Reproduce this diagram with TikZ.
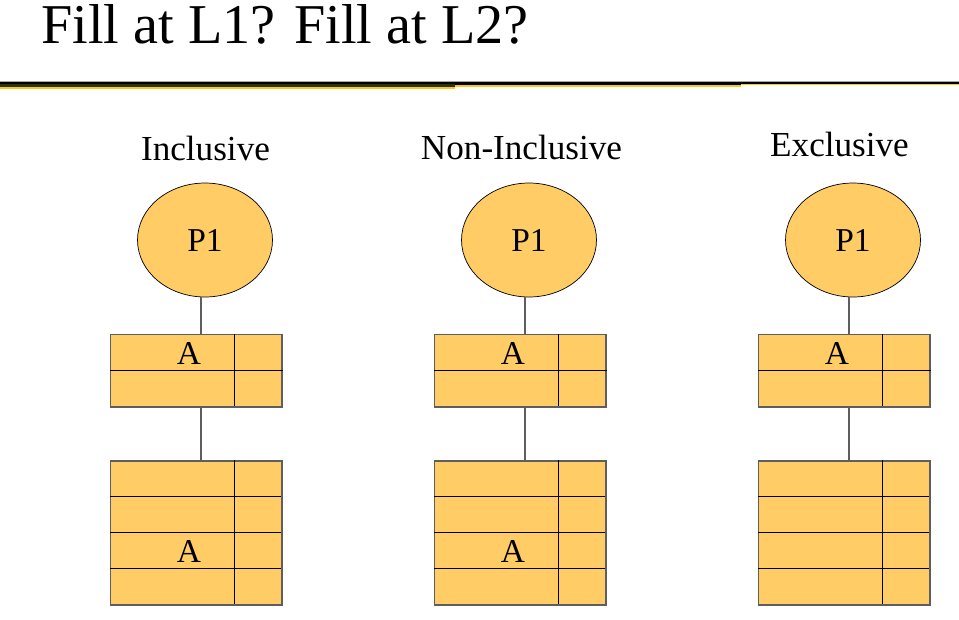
\documentclass[tikz,border=0pt]{standalone}
\usepackage{fontspec}
\setmainfont{Liberation Serif}
\definecolor{cachefill}{HTML}{FFCC66}
\definecolor{boxline}{HTML}{5E5E5E}
\definecolor{ruledark}{HTML}{2E2E08}
\definecolor{ruleyellow}{HTML}{FFC61A}
\tikzset{
  cpu/.style={ellipse, draw=black, line width=0.4pt, fill=cachefill,
              minimum width=2.7cm, minimum height=2.28cm, inner sep=0pt,
              font=\fontsize{19}{22}\selectfont},
  cachebox/.style={rectangle, draw=boxline, line width=0.85pt, fill=cachefill,
                   minimum width=3.426cm, inner sep=0pt},
  cell/.style={black, line width=0.55pt},
  link/.style={boxline, line width=0.85pt},
  head/.style={anchor=base, inner sep=0pt, font=\fontsize{20}{24}\selectfont},
  tag/.style={inner sep=0pt, font=\fontsize{19}{22}\selectfont}
}
\usetikzlibrary{shapes.geometric}
\begin{document}
\begin{tikzpicture}[x=0.02cm, y=-0.02cm]
      \useasboundingbox (0,0) rectangle (959,619);

      % title and the rule under it
      \node[anchor=base west, inner sep=0pt, font=\fontsize{32}{37}\selectfont]
        (title) at (41,43) {Fill at L1? Fill at L2?};
      \fill[gray!70] (0,80.5) rectangle (959,81.5);
      \fill[black] (0,81.5) rectangle (959,83.8);
      \fill[ruledark] (0,83.8) rectangle (455,87);
      \fill[ruleyellow] (0,87) rectangle (455,88.5);
      \fill[black] (455,83.8) rectangle (741,84.8);
      \fill[ruleyellow] (455,84.8) rectangle (741,86.8);
      \fill[ruleyellow] (741,83.8) rectangle (959,85.3);

      \foreach \cx/\hx/\str/\hy/\hasA [count=\i] in {205/205.5/Inclusive/160/1,
                                                     529/521.5/Non-Inclusive/159/1,
                                                     853/839.5/Exclusive/156/0}
      {\node[head] (head\i) at (\hx,\hy) {\str};
       \node[cpu] (p\i) at (\cx,240) {P1};
       \node[cachebox, minimum height=1.454cm] (lone\i) at ({\cx-8.8},370.7) {};
       \node[cachebox, minimum height=2.886cm] (ltwo\i) at ({\cx-8.8},532.9) {};
       % cells
       \draw[cell] (lone\i.west) -- (lone\i.east);
       \draw[cell] (lone\i.north west) ++(124.6,0) -- ++(0,72.7);
       \draw[cell] (ltwo\i.north west) ++(124.6,0) -- ++(0,144.3);
       \foreach \r in {1,2,3}
       {\draw[cell] (ltwo\i.north west) ++(0,{36.1*\r}) -- ++(171.3,0);
       };
       \node[tag] (aone\i) at ({\cx-16},353.5) {A};
       \ifnum\hasA=1
         \node[tag] (atwo\i) at ({\cx-16},551) {A};
       \fi
       % links
       \draw[link] ([xshift=-2.3pt]p\i.south) -- ([xshift=-2.3pt]p\i.south |- lone\i.north);
       \draw[link] ([xshift=-2.3pt]p\i.south |- lone\i.south)
                -- ([xshift=-2.3pt]p\i.south |- ltwo\i.north);
      };
\end{tikzpicture}
\end{document}
